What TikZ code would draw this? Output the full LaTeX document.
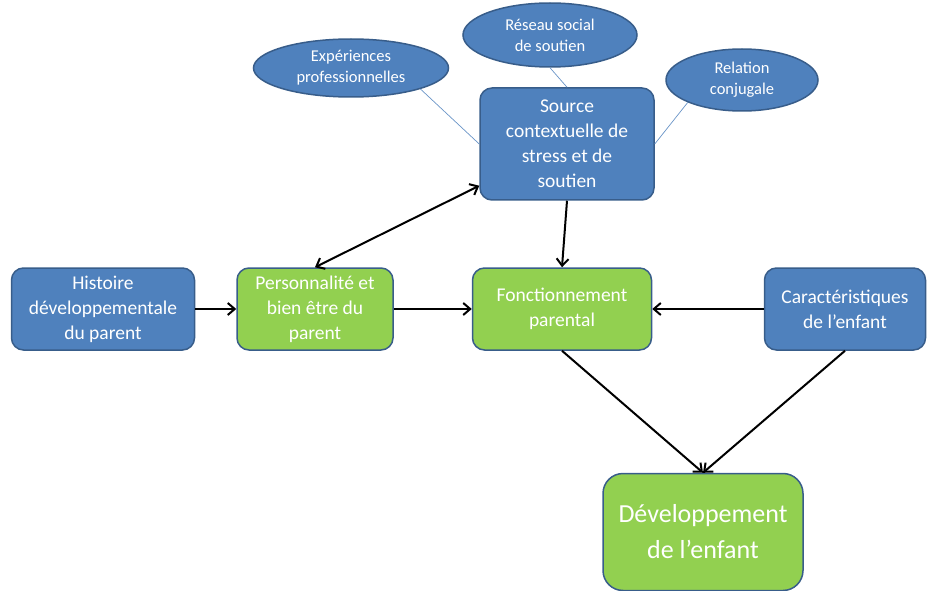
\documentclass[tikz,border=0pt]{standalone}
\usepackage{fontspec}
\setmainfont{Carlito}
\usetikzlibrary{shapes.geometric,arrows.meta}
\definecolor{boxblue}{HTML}{4F81BD}
\definecolor{boxgreen}{HTML}{92D050}
\definecolor{boxline}{HTML}{385D8A}

\begin{document}
\begin{tikzpicture}[x=1pt,y=-1pt,
  bluebox/.style={draw=boxline,line width=1.5pt,fill=boxblue,rounded corners=12pt,
    text=white,align=center,font=\fontsize{19.5}{25}\selectfont,minimum height=82pt,inner sep=2pt},
  greenbox/.style={bluebox,fill=boxgreen},
  oval/.style={ellipse,draw=boxline,line width=1.5pt,fill=boxblue,text=white,
    align=center,font=\fontsize{16.5}{21}\selectfont,inner sep=0pt},
  link/.style={draw=boxblue!85,line width=0.7pt},
  arr/.style={-{Straight Barb[length=7pt,width=12pt]},line width=2pt},
  arr2/.style={{Straight Barb[length=7pt,width=12pt]}-{Straight Barb[length=7pt,width=12pt]},line width=2pt}]
\useasboundingbox (0,0) rectangle (927,591);

% boxes
\node[bluebox,minimum width=183pt] (hist) at (103,309) {Histoire\\développementale\\du parent};
\node[greenbox,minimum width=156pt] (pers) at (315,309) {Personnalité et\\bien être du\\parent};
\node[greenbox,minimum width=179pt] (fonc) at (562,309) {Fonctionnement\\parental};
\node[bluebox,minimum width=161pt] (cara) at (845,309) {Caractéristiques\\de l’enfant};
\node[bluebox,minimum width=174pt,minimum height=112pt] (src) at (567,144) {Source\\contextuelle de\\stress et de\\soutien};
\node[greenbox,minimum width=200pt,minimum height=117pt,rounded corners=20pt,
  font=\fontsize{26}{36}\selectfont] (dev) at (703,532) {Développement\\de l’enfant};

% ellipses
\node[oval,minimum width=195pt,minimum height=58pt] (exp) at (351,68) {Expériences\\professionnelles};
\node[oval,minimum width=174pt,minimum height=64pt] (res) at (550,35) {Réseau social\\de soutien};
\node[oval,minimum width=152pt,minimum height=62pt] (rel) at (742,80) {Relation\\conjugale};

\draw[link] (exp.south east) -- (src.west);
\draw[link] (res.south) -- (src.north);
\draw[link] (rel.south west) -- (src.east);

% arrows
\draw[arr] (hist) -- (pers);
\draw[arr] (pers) -- (fonc);
\draw[arr] (cara) -- (fonc);
\draw[arr2] (pers.north) -- ([yshift=15pt]src.south west);
\draw[arr] (src.south) -- (fonc.north);
\draw[arr] (fonc.south) -- (dev.north);
\draw[arr] (cara.south) -- (dev.north);
\end{tikzpicture}
\end{document}
